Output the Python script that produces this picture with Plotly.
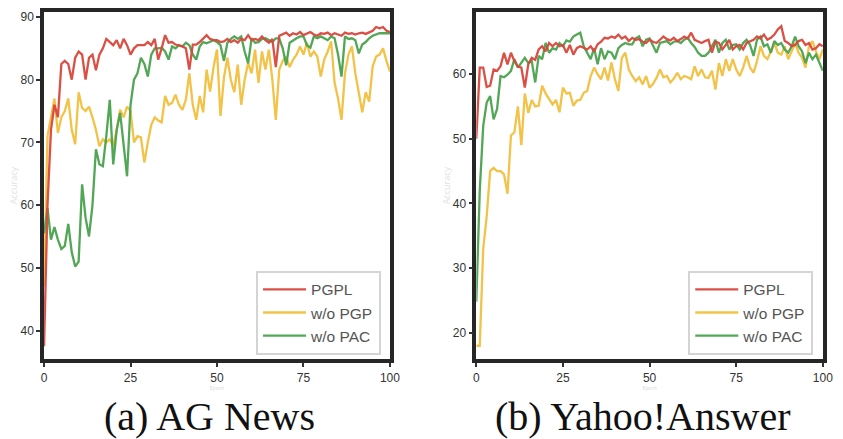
import plotly.graph_objects as go

epochs = list(range(101))

# (a) AG News
ag_pgpl = [37.5, 60, 72, 76, 74, 82.5, 83, 82.5, 80, 83.5, 84.5, 84, 80, 83.5, 84, 81.5, 84, 85, 86.5, 86,
           85.5, 86.3, 85, 86.5, 85.5, 84, 85, 85.5, 85.5, 85.5, 86, 85.5, 86.5, 83.2, 85, 87.1, 85.9, 86, 85.6, 85.5,
           85.3, 85, 81.6, 85.6, 85.6, 86, 86.5, 87.1, 86.5, 86.3, 86.3, 86, 86.1, 86.5, 86, 86.3, 85.9, 86.5, 86.3, 87.1,
           86.3, 86.5, 86.3, 86.9, 86.3, 85.9, 86.5, 82, 87, 87.3, 87.5, 87, 87.4, 87.2, 87.6, 87.1, 87.3, 87.6, 87.2, 87,
           87.4, 87.3, 87.5, 87.1, 87.4, 87.2, 87, 87.5, 87.3, 87.4, 87.2, 87.4, 87.5, 87.3, 87.6, 87.8, 88.4, 88.2, 88.4, 87.8,
           87.6]
ag_wo_pgp = [47, 71, 74, 77, 71.5, 74, 75, 77, 72, 69.7, 78, 75.5, 75, 75.7, 74, 72, 69.4, 70.5, 70, 70.5,
             69.4, 72, 75.2, 74, 75.7, 75, 70, 71, 70.8, 66.8, 70, 72.8, 74, 73.5, 73.2, 77.4, 76, 76.3, 77.6, 76,
             75.2, 76.8, 81, 76, 73.6, 77.4, 74.8, 81.6, 78.1, 82, 84.8, 74.2, 80.3, 83.5, 80, 78, 82.4, 76, 80, 82.7,
             81, 84.8, 79.5, 84.5, 81.6, 84.8, 80, 73.6, 81.6, 83, 83.7, 82, 83.2, 84, 85.3, 84, 85.9, 83.7, 84.5, 83.7,
             80.5, 83.2, 84.5, 86.1, 79.5, 77, 73.6, 81, 84, 85.3, 81, 78, 74.8, 78, 76.5, 82.1, 83.7, 84, 85, 83,
             81.3]
ag_wo_pac = [55.5, 59.5, 54.5, 56.5, 54.5, 53, 53.5, 57, 52.5, 50.2, 51, 63.3, 58, 55, 60, 68.9, 66.5, 66.2, 71, 76.8,
             66.5, 72, 74.7, 70, 64.6, 76, 80, 81, 83.5, 82.5, 80.5, 84, 85, 85, 85.1, 84.5, 83.2, 85.3, 85, 85.5,
             85.3, 85.9, 85.5, 84, 83.2, 85.3, 86, 85.8, 86, 86.3, 86, 85.5, 83, 85.9, 86.5, 86.9, 86.5, 86.9, 84.5, 82.6,
             86.6, 85.9, 86, 86.5, 86.6, 86.3, 86, 86.6, 86.6, 85, 82.3, 85.9, 86.3, 86.6, 86.9, 86.9, 85.5, 85.1, 86.9, 86.6,
             86.9, 86.6, 86.3, 86.9, 86.6, 84, 80.5, 86.9, 86.5, 86.6, 86.3, 84.2, 85.6, 86, 86.6, 87, 87.2, 87.4, 87.4, 87.4,
             87.4]

# (b) Yahoo!Answer
ya_pgpl = [50, 61, 61, 58, 58.2, 60.7, 60.5, 61.2, 63.3, 61.5, 63.3, 62, 61.2, 61, 57.9, 61.5, 62.5, 62.2, 63.8, 64.3,
           63.5, 64.8, 64.3, 64.8, 64.3, 64.5, 63.3, 64.5, 63, 64, 64.3, 64, 63.8, 64.3, 63.5, 64.6, 65, 65.6, 65.5, 65.8,
           65.6, 66.1, 65.5, 65.8, 65.1, 65.6, 65.3, 65.4, 65, 64.8, 65.3, 65, 64.8, 65.3, 65.8, 65.4, 65.2, 65.6, 65.1, 65.4,
           65.8, 65.5, 66.4, 65.3, 65, 64.8, 65.1, 65.3, 63.3, 65, 64.8, 63.8, 64.5, 65.3, 63.8, 64.3, 64.5, 63.8, 64.8, 65,
           65.3, 65.8, 65.5, 66.1, 65.3, 65.6, 66.1, 66.9, 67.4, 65.1, 64.8, 64.3, 64.5, 65.1, 65.3, 64.5, 64.8, 63.8, 64, 64.6,
           64.3]
ya_wo_pgp = [18, 18, 33, 38, 45, 45.5, 45, 45, 44.5, 41.5, 50.5, 51, 55, 49, 57, 54, 56, 55, 55.1, 58.2,
             57, 56.1, 55.3, 56, 54.1, 57.9, 57, 57.1, 55.1, 55.9, 56, 57.1, 57.4, 59.7, 61, 60, 59.2, 61, 59, 61.8,
             59.2, 57.4, 62.5, 63.3, 60.7, 59.7, 58.9, 59.5, 58.4, 59.7, 57.9, 58.5, 59.4, 60.7, 59.5, 59.7, 58.7, 59.3, 60.2, 59.2,
             59.7, 59.5, 59.2, 61.2, 59.7, 60.7, 59.5, 59.4, 60.5, 57.6, 61.7, 59.7, 62.3, 60.5, 62.3, 60.7, 59.7, 61, 62.8, 61,
             60.2, 62, 64.3, 62.8, 62.3, 63.5, 64.8, 63.3, 63, 64.3, 62.3, 63.5, 64.8, 63.3, 62.5, 61, 64.3, 65.1, 63.5, 62.3,
             63.8]
ya_wo_pac = [24.8, 42, 52, 55.6, 56.6, 53, 54.6, 59.7, 59.5, 59.9, 60.5, 62.3, 61, 61.7, 62.5, 61.7, 62, 58.7, 62.8, 62.3,
             64.8, 63.3, 64, 63.8, 64.8, 64.3, 65.2, 65, 65.8, 66.1, 66.4, 64.3, 63.3, 62.3, 64, 61.5, 64, 62.3, 63.5, 63.3,
             62.3, 64, 64.5, 64.8, 64.6, 64.6, 65.5, 65.8, 64.3, 65.3, 65.5, 64.3, 63.3, 64.8, 65, 65.1, 64.6, 65, 65.1, 64.8,
             65.3, 65.6, 64.8, 64.2, 63.3, 62.8, 62.8, 63.3, 64.3, 65.3, 63.3, 64.8, 65.3, 63.8, 64.5, 64.6, 63.8, 64.8, 65.3, 64.5,
             62.8, 65.3, 65.8, 64.3, 64.6, 63.3, 65.1, 64.5, 64.8, 63.8, 63.3, 64.3, 65.8, 64.3, 63.5, 61.7, 63.3, 62.3, 63, 61.8,
             60.5]

series_names = ["PGPL", "w/o PGP", "w/o PAC"]
colors = ["#d9473c", "#f2c040", "#4aa34e"]
x_ticks = [0, 25, 50, 75, 100]
ag_y_ticks = [40, 50, 60, 70, 80, 90]
ya_y_ticks = [20, 30, 40, 50, 60]
captions = ["(a) AG News", "(b) Yahoo!Answer"]

W, H = 843, 439
fig = go.Figure()

panels = [
    (ag_pgpl, ag_wo_pgp, ag_wo_pac),
    (ya_pgpl, ya_wo_pgp, ya_wo_pac),
]
order = [1, 2, 0]
for p, data in enumerate(panels):
    xa = "x" if p == 0 else "x2"
    ya = "y" if p == 0 else "y2"
    lg = "legend" if p == 0 else "legend2"
    for i in order:
        fig.add_trace(go.Scatter(
            x=epochs, y=data[i], mode="lines", name=series_names[i],
            line=dict(color=colors[i], width=2.3),
            xaxis=xa, yaxis=ya, legend=lg, legendgroup=f"{p}{i}",
            legendrank=i,
            opacity=0.95,
        ))

def px_x(v):
    return v / W

def px_y(v):
    return 1 - v / H

axis_common = dict(
    showline=True, mirror=True, linecolor="#262626", linewidth=3.5,
    ticks="outside", ticklen=4, tickwidth=1.5, tickcolor="#333",
    tickfont=dict(family="Liberation Sans, Arial", size=12, color="#333"),
    showgrid=False, zeroline=False,
)
xt = dict(text="Epoch", font=dict(size=5, color="#d8d8d8"), standoff=0)
yt = dict(text="Accuracy", font=dict(size=9, color="#e2e2e2"), standoff=2)
ydom = [px_y(359), px_y(10)]
legend_common = dict(
    xanchor="left", yanchor="top",
    bgcolor="white", bordercolor="#d4d4d4", borderwidth=2,
    font=dict(family="Liberation Sans, Arial", size=15.5, color="#555"),
    tracegroupgap=0, itemwidth=43,
)
fig.update_layout(
    width=W, height=H,
    margin=dict(l=0, r=0, t=0, b=0),
    paper_bgcolor="white", plot_bgcolor="white",
    xaxis=dict(domain=[px_x(41.7), px_x(393)], range=[0, 100], tickvals=x_ticks, anchor="y",
               title=xt, **axis_common),
    yaxis=dict(domain=ydom, range=[35.4, 90.8], tickvals=ag_y_ticks, anchor="x",
               title=yt, **axis_common),
    xaxis2=dict(domain=[px_x(480.7), px_x(832.7)], range=[0, 100], tickvals=x_ticks, anchor="y2",
                title=xt, **axis_common),
    yaxis2=dict(domain=ydom, range=[15.9, 69.6], tickvals=ya_y_ticks, anchor="x2",
                title=yt, **axis_common),
    legend=dict(x=px_x(257), y=px_y(270), **legend_common),
    legend2=dict(x=px_x(696), y=px_y(270), **legend_common),
    showlegend=True,
)

for cx, text in zip([210, 650], captions):
    fig.add_annotation(x=px_x(cx), y=px_y(416), xref="paper", yref="paper",
                       text=text, showarrow=False, xanchor="center", yanchor="middle",
                       font=dict(family="Liberation Serif, Times New Roman", size=40, color="#111"))

fig.write_html("out.html", config={"displayModeBar": False},
               post_script="document.body.style.margin='0';document.body.style.overflow='hidden';")
